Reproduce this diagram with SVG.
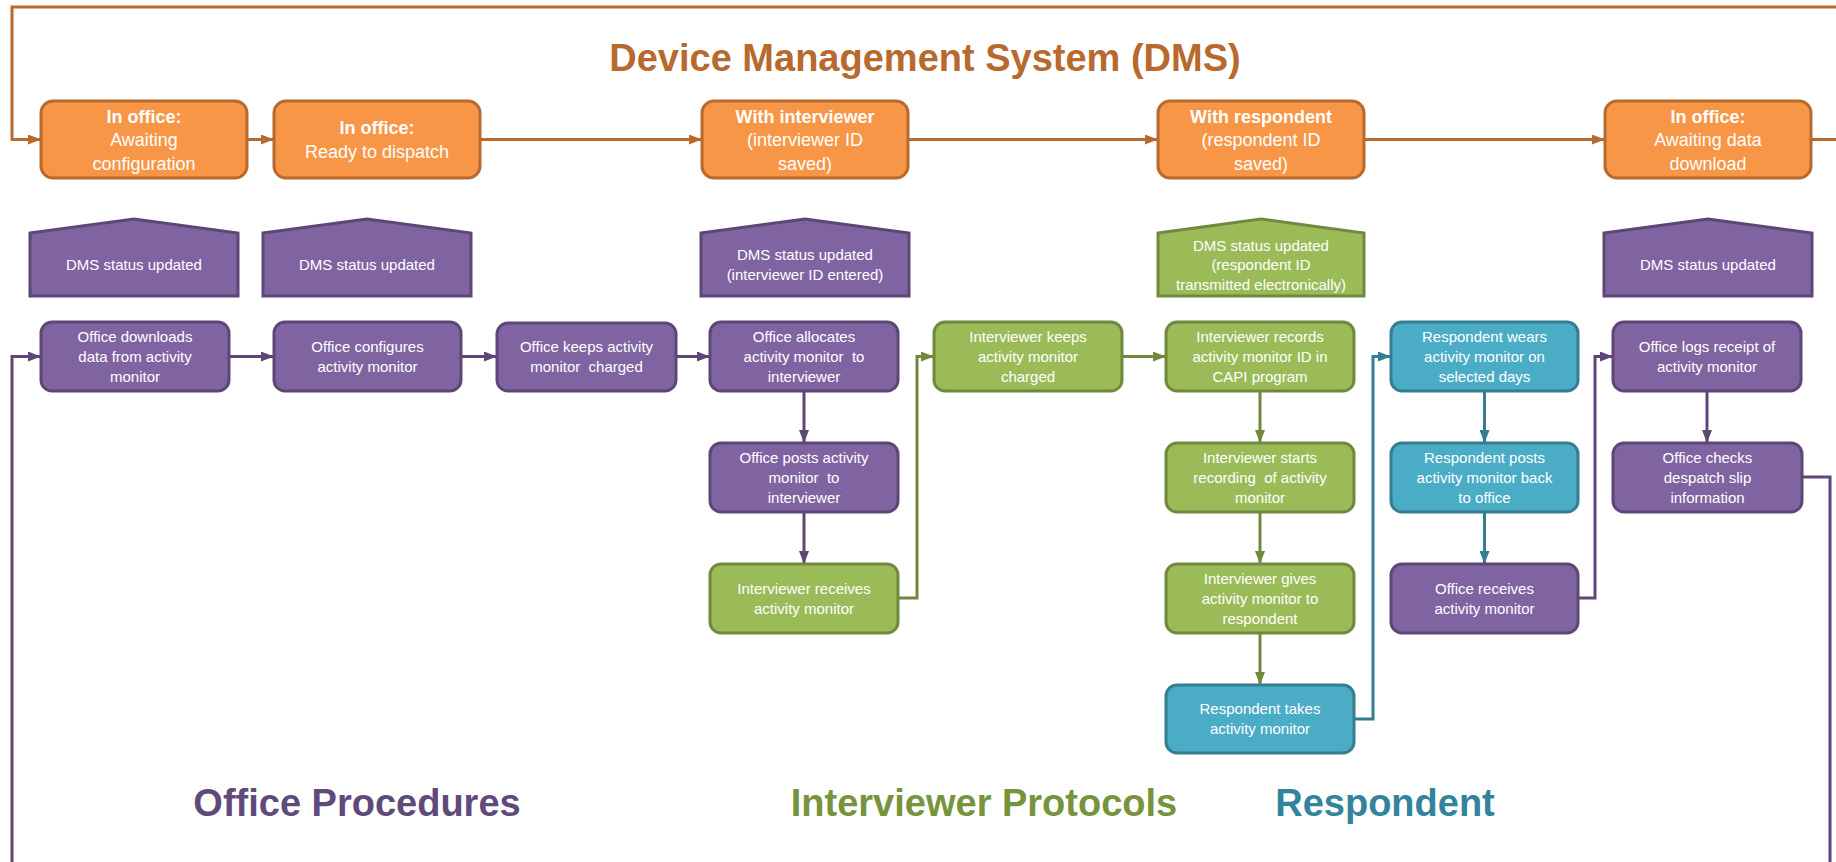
<svg xmlns="http://www.w3.org/2000/svg" width="1836" height="862" viewBox="0 0 1836 862">
<defs>
<style>
.ob{fill:#F79646;stroke:#B8692E;stroke-width:3}
.pb{fill:#8064A2;stroke:#5C4776;stroke-width:3}
.gb{fill:#9BBB59;stroke:#71893F;stroke-width:3}
.tb{fill:#4BACC6;stroke:#357D91;stroke-width:3}
text{font-family:"Liberation Sans",Arial,sans-serif;text-anchor:middle;white-space:pre}
.t{font-size:15px;fill:#FFFFFF}
.ot{font-size:18px;fill:#FFFFFF}
.b{font-weight:bold}
.h{font-size:38px;font-weight:bold}
.co{fill:none;stroke:#B8692E;stroke-width:3;marker-end:url(#ao)}
.cp{fill:none;stroke:#5C4776;stroke-width:3;marker-end:url(#ap)}
.cg{fill:none;stroke:#71893F;stroke-width:3;marker-end:url(#ag)}
.ct{fill:none;stroke:#357D91;stroke-width:3;marker-end:url(#at)}
</style>
<marker id="ao" markerWidth="13" markerHeight="10" refX="13" refY="5" orient="auto" markerUnits="userSpaceOnUse"><path d="M0,0 L13,5 L0,10 z" fill="#B8692E"/></marker>
<marker id="ap" markerWidth="13" markerHeight="10" refX="13" refY="5" orient="auto" markerUnits="userSpaceOnUse"><path d="M0,0 L13,5 L0,10 z" fill="#5C4776"/></marker>
<marker id="ag" markerWidth="13" markerHeight="10" refX="13" refY="5" orient="auto" markerUnits="userSpaceOnUse"><path d="M0,0 L13,5 L0,10 z" fill="#71893F"/></marker>
<marker id="at" markerWidth="13" markerHeight="10" refX="13" refY="5" orient="auto" markerUnits="userSpaceOnUse"><path d="M0,0 L13,5 L0,10 z" fill="#357D91"/></marker>
</defs>
<rect width="1836" height="862" fill="#FFFFFF"/>

<text x="925" y="71" class="h" fill="#B8692E">Device Management System (DMS)</text>
<text x="357" y="816" class="h" fill="#604A7B">Office Procedures</text>
<text x="984" y="816" class="h" fill="#77933C">Interviewer Protocols</text>
<text x="1385" y="816" class="h" fill="#31849B">Respondent</text>

<g id="connectors">
<path class="co" d="M1811,139.5 H1845 V7 H12 V139.5 H41"/>
<path class="co" d="M247,139.5 H274"/>
<path class="co" d="M480,139.5 H702"/>
<path class="co" d="M908,139.5 H1158"/>
<path class="co" d="M1364,139.5 H1605"/>
<path class="cp" d="M12,870 V356.5 H41"/>
<path class="cp" d="M229,356.5 H274"/>
<path class="cp" d="M461,356.5 H497"/>
<path class="cp" d="M676,356.5 H710"/>
<path class="cp" d="M804,391 V443"/>
<path class="cp" d="M804,512 V564"/>
<path class="cp" d="M1578,598 H1595 V356.5 H1613"/>
<path class="cp" d="M1707,391 V443"/>
<path fill="none" stroke="#5C4776" stroke-width="3" d="M1802,477 H1830 V870"/>
<path class="cg" d="M898,598 H917 V356.5 H934"/>
<path class="cg" d="M1122,356.5 H1166"/>
<path class="cg" d="M1260,391 V443"/>
<path class="cg" d="M1260,512 V564"/>
<path class="cg" d="M1260,633 V685"/>
<path class="ct" d="M1354,719 H1373 V356.5 H1391"/>
<path class="ct" d="M1484.5,391 V443"/>
<path class="ct" d="M1484.5,512 V564"/>
</g>

<g id="s1"><rect class="ob" x="41" y="101" width="206" height="77" rx="12"/>
<text class="ot b" x="144" y="123">In office:</text><text class="ot" x="144" y="146">Awaiting</text><text class="ot" x="144" y="170">configuration</text></g>
<g id="s2"><rect class="ob" x="274" y="101" width="206" height="77" rx="12"/>
<text class="ot b" x="377" y="134">In office:</text><text class="ot" x="377" y="158">Ready to dispatch</text></g>
<g id="s3"><rect class="ob" x="702" y="101" width="206" height="77" rx="12"/>
<text class="ot b" x="805" y="123">With interviewer</text><text class="ot" x="805" y="146">(interviewer ID</text><text class="ot" x="805" y="170">saved)</text></g>
<g id="s4"><rect class="ob" x="1158" y="101" width="206" height="77" rx="12"/>
<text class="ot b" x="1261" y="123">With respondent</text><text class="ot" x="1261" y="146">(respondent ID</text><text class="ot" x="1261" y="170">saved)</text></g>
<g id="s5"><rect class="ob" x="1605" y="101" width="206" height="77" rx="12"/>
<text class="ot b" x="1708" y="123">In office:</text><text class="ot" x="1708" y="146">Awaiting data</text><text class="ot" x="1708" y="170">download</text></g>

<g id="d1"><path class="pb" d="M30,233 L134,219 L238,233 V296 H30 Z"/><text class="t" x="134" y="270">DMS status updated</text></g>
<g id="d2"><path class="pb" d="M263,233 L367,219 L471,233 V296 H263 Z"/><text class="t" x="367" y="270">DMS status updated</text></g>
<g id="d3"><path class="pb" d="M701,233 L805,219 L909,233 V296 H701 Z"/><text class="t" x="805" y="260">DMS status updated</text><text class="t" x="805" y="280">(interviewer ID entered)</text></g>
<g id="d4"><path class="gb" d="M1158,233 L1261,219 L1364,233 V296 H1158 Z"/><text class="t" x="1261" y="251">DMS status updated</text><text class="t" x="1261" y="270">(respondent ID</text><text class="t" x="1261" y="290">transmitted electronically)</text></g>
<g id="d5"><path class="pb" d="M1604,233 L1708,219 L1812,233 V296 H1604 Z"/><text class="t" x="1708" y="270">DMS status updated</text></g>

<g id="p1"><rect class="pb" x="41" y="322" width="188" height="69" rx="11"/><text class="t" x="135" y="341.5">Office downloads</text><text class="t" x="135" y="361.5">data from activity</text><text class="t" x="135" y="381.5">monitor</text></g>
<g id="p2"><rect class="pb" x="274" y="322" width="187" height="69" rx="11"/><text class="t" x="367.5" y="351.5">Office configures</text><text class="t" x="367.5" y="371.5">activity monitor</text></g>
<g id="p3"><rect class="pb" x="497" y="323" width="179" height="68" rx="11"/><text class="t" x="586.5" y="352">Office keeps activity</text><text class="t" x="586.5" y="372">monitor  charged</text></g>
<g id="p4"><rect class="pb" x="710" y="322" width="188" height="69" rx="11"/><text class="t" x="804" y="341.5">Office allocates</text><text class="t" x="804" y="361.5">activity monitor  to</text><text class="t" x="804" y="381.5">interviewer</text></g>
<g id="p6"><rect class="pb" x="710" y="443" width="188" height="69" rx="11"/><text class="t" x="804" y="462.5">Office posts activity</text><text class="t" x="804" y="482.5">monitor  to</text><text class="t" x="804" y="502.5">interviewer</text></g>
<g id="g4"><rect class="gb" x="710" y="564" width="188" height="69" rx="11"/><text class="t" x="804" y="593.5">Interviewer receives</text><text class="t" x="804" y="613.5">activity monitor</text></g>
<g id="g1"><rect class="gb" x="934" y="322" width="188" height="69" rx="11"/><text class="t" x="1028" y="341.5">Interviewer keeps</text><text class="t" x="1028" y="361.5">activity monitor</text><text class="t" x="1028" y="381.5">charged</text></g>
<g id="g2"><rect class="gb" x="1166" y="322" width="188" height="69" rx="11"/><text class="t" x="1260" y="341.5">Interviewer records</text><text class="t" x="1260" y="361.5">activity monitor ID in</text><text class="t" x="1260" y="381.5">CAPI program</text></g>
<g id="g3"><rect class="gb" x="1166" y="443" width="188" height="69" rx="11"/><text class="t" x="1260" y="462.5">Interviewer starts</text><text class="t" x="1260" y="482.5">recording  of activity</text><text class="t" x="1260" y="502.5">monitor</text></g>
<g id="g5"><rect class="gb" x="1166" y="564" width="188" height="69" rx="11"/><text class="t" x="1260" y="583.5">Interviewer gives</text><text class="t" x="1260" y="603.5">activity monitor to</text><text class="t" x="1260" y="623.5">respondent</text></g>
<g id="t3"><rect class="tb" x="1166" y="685" width="188" height="68" rx="11"/><text class="t" x="1260" y="714">Respondent takes</text><text class="t" x="1260" y="734">activity monitor</text></g>
<g id="t1"><rect class="tb" x="1391" y="322" width="187" height="69" rx="11"/><text class="t" x="1484.5" y="341.5">Respondent wears</text><text class="t" x="1484.5" y="361.5">activity monitor on</text><text class="t" x="1484.5" y="381.5">selected days</text></g>
<g id="t2"><rect class="tb" x="1391" y="443" width="187" height="69" rx="11"/><text class="t" x="1484.5" y="462.5">Respondent posts</text><text class="t" x="1484.5" y="482.5">activity monitor back</text><text class="t" x="1484.5" y="502.5">to office</text></g>
<g id="p8"><rect class="pb" x="1391" y="564" width="187" height="69" rx="11"/><text class="t" x="1484.5" y="593.5">Office receives</text><text class="t" x="1484.5" y="613.5">activity monitor</text></g>
<g id="p5"><rect class="pb" x="1613" y="322" width="188" height="69" rx="11"/><text class="t" x="1707" y="351.5">Office logs receipt of</text><text class="t" x="1707" y="371.5">activity monitor</text></g>
<g id="p7"><rect class="pb" x="1613" y="443" width="189" height="69" rx="11"/><text class="t" x="1707.5" y="462.5">Office checks</text><text class="t" x="1707.5" y="482.5">despatch slip</text><text class="t" x="1707.5" y="502.5">information</text></g>
</svg>
